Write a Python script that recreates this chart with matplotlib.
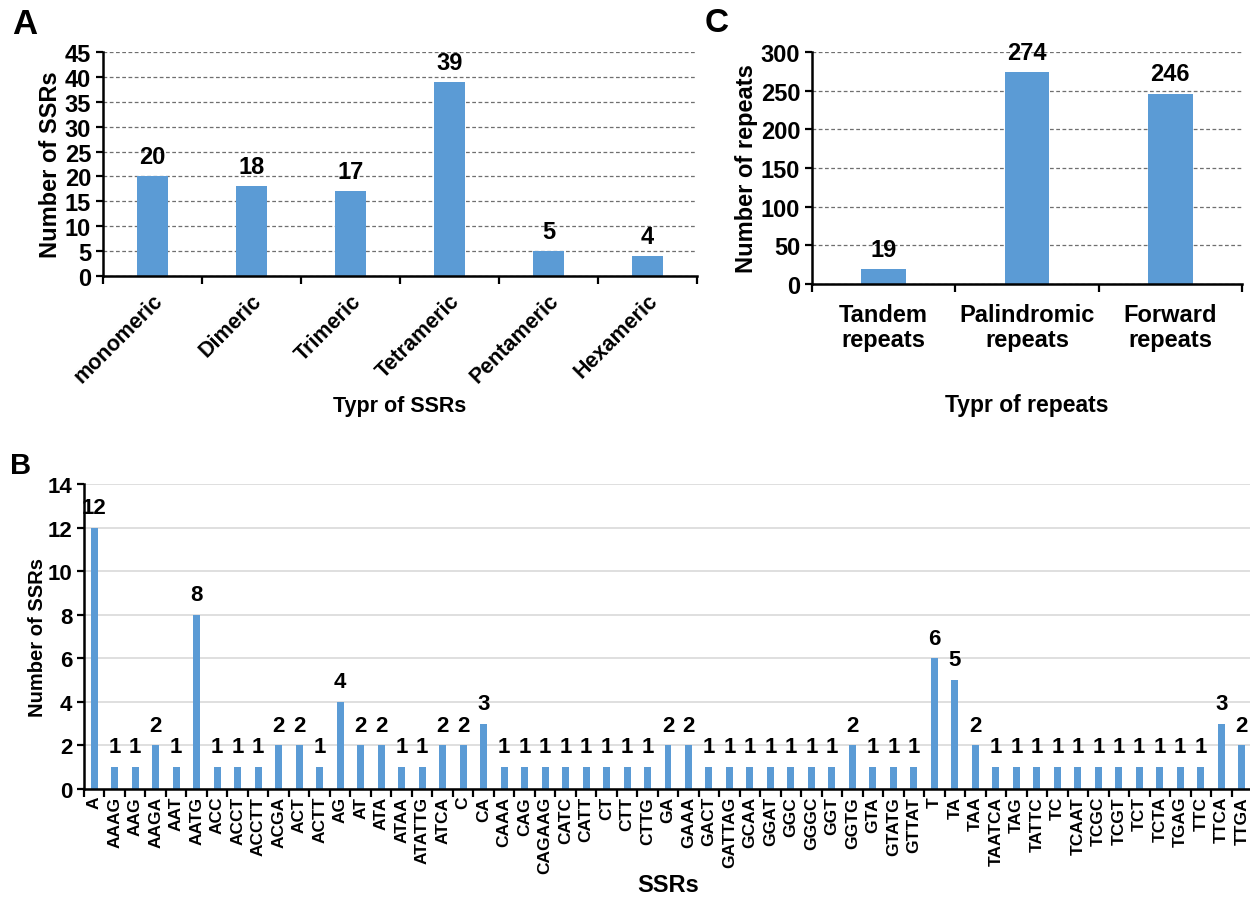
import matplotlib
matplotlib.use("Agg")
import matplotlib.pyplot as plt
import numpy as np

# --- data ---
ssr_types = ["monomeric", "Dimeric", "Trimeric", "Tetrameric", "Pentameric", "Hexameric"]
ssr_type_counts = [20, 18, 17, 39, 5, 4]

repeat_types = ["Tandem\nrepeats", "Palindromic\nrepeats", "Forward\nrepeats"]
repeat_counts = [19, 274, 246]

ssr_motifs = ["A", "AAAG", "AAG", "AAGA", "AAT", "AATG", "ACC", "ACCT", "ACCTT", "ACGA",
              "ACT", "ACTT", "AG", "AT", "ATA", "ATAA", "ATATTG", "ATCA", "C", "CA",
              "CAAA", "CAG", "CAGAAG", "CATC", "CATT", "CT", "CTT", "CTTG", "GA", "GAAA",
              "GACT", "GATTAG", "GCAA", "GGAT", "GGC", "GGGC", "GGT", "GGTG", "GTA", "GTATG",
              "GTTAT", "T", "TA", "TAA", "TAATCA", "TAG", "TATTC", "TC", "TCAAT", "TCGC",
              "TCGT", "TCT", "TCTA", "TGAG", "TTC", "TTCA", "TTGA"]
ssr_motif_counts = [12, 1, 1, 2, 1, 8, 1, 1, 1, 2,
                    2, 1, 4, 2, 2, 1, 1, 2, 2, 3,
                    1, 1, 1, 1, 1, 1, 1, 1, 2, 2,
                    1, 1, 1, 1, 1, 1, 1, 2, 1, 1,
                    1, 6, 5, 2, 1, 1, 1, 1, 1, 1,
                    1, 1, 1, 1, 1, 3, 2]

BLUE = "#5B9BD5"

plt.rcParams["font.family"] = ["Liberation Sans", "DejaVu Sans"]
plt.rcParams["font.weight"] = "bold"
plt.rcParams["axes.labelweight"] = "bold"

W, H = 1250, 904
fig = plt.figure(figsize=(W / 100, H / 100), dpi=100)


def px_axes(left, top, right, bottom):
    return fig.add_axes([left / W, 1 - bottom / H, (right - left) / W, (bottom - top) / H])


def style_axes(ax, n, grid_style):
    ax.set_xlim(-0.5, n - 0.5)
    for s in ("top", "right"):
        ax.spines[s].set_visible(False)
    for s in ("left", "bottom"):
        ax.spines[s].set_color("black")
        ax.spines[s].set_linewidth(1.8)
    ax.set_xticks(np.arange(-0.5, n, 1.0), minor=True)
    ax.tick_params(axis="x", which="major", length=0)
    ax.tick_params(axis="x", which="minor", length=6, width=1.6, direction="out")
    ax.tick_params(axis="y", length=5, width=1.6, direction="out")
    ax.set_axisbelow(True)
    if grid_style == "dashed":
        ax.yaxis.grid(True, color="#6f6f6f", linestyle=(0, (3, 2)), linewidth=0.9)
    else:
        ax.yaxis.grid(True, color="#d9d9d9", linestyle="-", linewidth=1.2)


def value_labels(ax, xs, vals, size, offset):
    for x, v in zip(xs, vals):
        ax.annotate(str(v), (x, v), xytext=(0, offset), textcoords="offset points",
                    ha="center", va="bottom", fontsize=size, fontweight="bold")


# --- Panel A ---
axA = px_axes(103, 53, 697, 277)
xa = np.arange(len(ssr_types))
axA.bar(xa, ssr_type_counts, width=0.31, color=BLUE, zorder=2)
style_axes(axA, len(ssr_types), "dashed")
axA.set_ylim(0, 45)
axA.set_yticks(np.arange(0, 46, 5))
axA.set_xticks(xa)
axA.set_xticklabels(ssr_types, rotation=45, ha="right", rotation_mode="anchor",
                    fontsize=15.5, fontweight="bold")
axA.tick_params(axis="y", labelsize=17)
axA.tick_params(axis="x", which="major", pad=10)
value_labels(axA, xa, ssr_type_counts, 17, 6)
axA.set_ylabel("Number of SSRs", fontsize=17, labelpad=2)
axA.set_xlabel("Typr of SSRs", fontsize=15.5, labelpad=6)
fig.text(12 / W, 1 - 8 / H, "A", fontsize=25, fontweight="bold", va="top", ha="left")

# --- Panel C ---
axC = px_axes(812, 53, 1242, 285)
xc = np.arange(len(repeat_types))
axC.bar(xc, repeat_counts, width=0.31, color=BLUE, zorder=2)
style_axes(axC, len(repeat_types), "dashed")
axC.set_ylim(0, 300)
axC.set_yticks(np.arange(0, 301, 50))
axC.set_xticks(xc)
axC.set_xticklabels(repeat_types, fontsize=17, fontweight="bold", linespacing=1.1)
axC.tick_params(axis="y", labelsize=17)
axC.tick_params(axis="x", which="major", pad=14)
value_labels(axC, xc, repeat_counts, 17, 6)
axC.set_ylabel("Number of repeats", fontsize=17, labelpad=2)
axC.set_xlabel("Typr of repeats", fontsize=16.5, labelpad=30)
fig.text(705 / W, 1 - 8 / H, "C", fontsize=24, fontweight="bold", va="top", ha="left")

# --- Panel B ---
axB = px_axes(84, 485, 1252, 790)
xb = np.arange(len(ssr_motifs))
axB.bar(xb, ssr_motif_counts, width=0.34, color=BLUE, zorder=2)
style_axes(axB, len(ssr_motifs), "solid")
axB.set_ylim(0, 14)
axB.set_yticks(np.arange(0, 15, 2))
axB.set_xticks(xb)
axB.set_xticklabels(ssr_motifs, rotation=90, fontsize=12.5, fontweight="bold")
axB.tick_params(axis="y", labelsize=16)
axB.tick_params(axis="x", which="major", pad=5)
value_labels(axB, xb, ssr_motif_counts, 16, 7)
axB.set_ylabel("Number of SSRs", fontsize=14.5, labelpad=0)
axB.set_xlabel("SSRs", fontsize=17, labelpad=0)
fig.text(10 / W, 1 - 452 / H, "B", fontsize=21, fontweight="bold", va="top", ha="left")

fig.savefig("out.png", dpi=100)
